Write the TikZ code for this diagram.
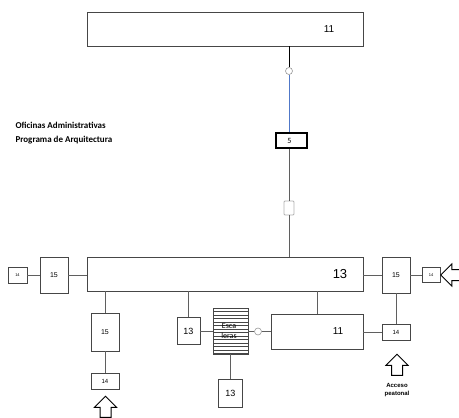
\documentclass[tikz,border=0pt]{standalone}
\usepackage{fontspec}
\setmainfont{Liberation Sans}
\newfontfamily\carlito{Carlito}
\usetikzlibrary{shapes.arrows}

\definecolor{linkgray}{RGB}{95,95,95}
\definecolor{boxgray}{RGB}{70,70,70}
\definecolor{linkblue}{RGB}{80,120,200}

\begin{document}
\begin{tikzpicture}[
    x=1pt, y=-1pt,
    room/.style={draw=boxgray, line width=0.9pt, fill=white, inner sep=0pt},
    stair/.style={room, path picture={
        \foreach \k in {1,...,13}
            \draw[boxgray, line width=0.5pt]
                ([yshift=-\k*3.5pt]path picture bounding box.north west) --
                ([yshift=-\k*3.5pt]path picture bounding box.north east);}},
    link/.style={draw=linkgray, line width=0.8pt},
    door/.style={circle, draw=black!40, fill=white, line width=0.6pt,
                 minimum size=7pt, inner sep=0pt},
    vent/.style={draw=black!30, fill=white, rounded corners=1pt,
                 line width=0.8pt, minimum width=10pt, minimum height=14pt,
                 inner sep=0pt},
    entry/.style={single arrow, draw=black, line width=1pt, fill=white,
                  inner sep=5pt, single arrow head extend=5.5pt,
                  minimum width=0pt, minimum height=21pt},
]
\useasboundingbox (0,0) rectangle (459,418);

% Upper block and its link down to the main hall
\node[room, minimum width=276pt, minimum height=34pt,
      label={[font=\fontsize{10}{12}\selectfont, xshift=104pt]center:11}]
      (top11) at (225,29) {};
\node[door] (c1) at (289,71) {};
\node[room, draw=black, line width=2pt, minimum width=31pt, minimum height=15pt,
      font=\carlito\fontsize{8}{9}\selectfont] (b5) at (291.5,140.5) {\hspace*{-4pt}5};
\node[vent] (v1) at (289,208) {};

\node[align=left, anchor=north west, font=\carlito\bfseries\fontsize{9}{14}\selectfont]
     (title) at (12,119) {Oficinas Administrativas\\Programa de Arquitectura};

% Main hall
\node[room, minimum width=276pt, minimum height=34pt,
      label={[font=\fontsize{13}{15}\selectfont, xshift=115pt]center:13}]
      (main13) at (225,274) {};

% Left wing
\node[room, minimum width=28pt, minimum height=36pt,
      font=\fontsize{7}{8}\selectfont] (L15) at (54,275) {15};
\node[room, minimum width=19pt, minimum height=16pt,
      font=\fontsize{4}{5}\selectfont] (L14) at (17.5,275) {14};
\node[room, minimum width=28pt, minimum height=38pt,
      font=\fontsize{7}{8}\selectfont] (B15) at (105,332) {15};
\node[room, minimum width=28pt, minimum height=16pt,
      font=\fontsize{6}{7}\selectfont] (B14) at (105,381) {14};
\node[entry, rotate=90] (accL) at (105.5,409.5) {};

% Stairs and the rooms round them
\node[room, minimum width=23pt, minimum height=27pt,
      font=\fontsize{9}{10}\selectfont] (S13) at (188.5,331) {13};
\node[stair, minimum width=35pt, minimum height=46pt, align=center,
      font=\carlito\fontsize{8}{10}\selectfont] (esc) at (230.5,331)
      {\hspace*{-3pt}Esca\\\hspace*{-3pt}leras};
\node[room, minimum width=24pt, minimum height=28pt,
      font=\fontsize{9}{10}\selectfont] (D13) at (230.5,393) {13};
\node[door] (c2) at (258,331.5) {};
\node[room, minimum width=92pt, minimum height=35pt,
      label={[font=\fontsize{10}{12}\selectfont, xshift=21pt]center:11}]
      (E11) at (317,331.5) {};

% Right wing
\node[room, minimum width=28pt, minimum height=36pt,
      font=\fontsize{7}{8}\selectfont] (R15) at (396,275) {15};
\node[room, minimum width=18pt, minimum height=15pt,
      font=\fontsize{4}{5}\selectfont] (R14) at (431,275) {14};
\node[room, minimum width=28pt, minimum height=16pt,
      font=\fontsize{6}{7}\selectfont] (RB14) at (396,332) {14};
\node[entry, rotate=180] (accE) at (454,275) {};
\node[entry, rotate=90] (accR) at (397,367.5) {};
\node[anchor=north, align=center, font=\bfseries\fontsize{6}{8}\selectfont]
     (acc) at (397,380) {Acceso\\peatonal};

% Links
\draw[black, line width=0.8pt] (top11.south -| c1) -- (c1);
\draw[linkblue, line width=0.6pt] (c1) -- (b5.north -| c1);
\draw[link] (b5.south -| c1) -- (v1);
\draw[link] (v1) -- (main13.north -| v1);

\draw[link] (L14) -- (L15);
\draw[link] (L15.east) -- (L15.east -| main13.west);
\draw[link] (main13.south -| B15) -- (B15);
\draw[link] (B15) -- (B14);

\draw[link] (main13.south -| S13) -- (S13);
\draw[link] (S13) -- (esc);
\draw[link] (esc) -- (D13);
\draw[link] (esc.east |- c2) -- (c2);
\draw[link] (c2) -- (E11.west |- c2);
\draw[link] (main13.south -| E11) -- (E11);

\draw[link] (R15.west -| main13.east) -- (R15);
\draw[link] (R15) -- (R14);
\draw[link] (R15) -- (RB14);
\draw[link] (E11.east |- RB14) -- (RB14);
\end{tikzpicture}
\end{document}
